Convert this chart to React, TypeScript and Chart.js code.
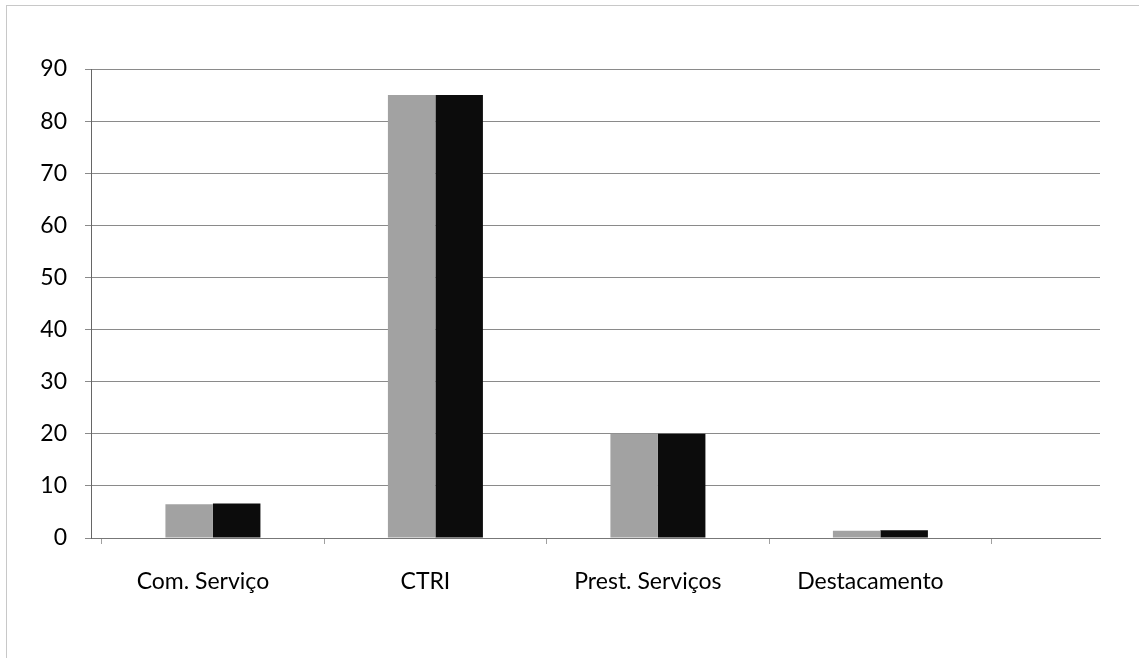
import React, { useEffect, useRef } from "react";
import { Chart, registerables } from "chart.js";

Chart.register(...registerables);

const categories = ["Com. Serviço", "CTRI", "Prest. Serviços", "Destacamento"];
const seriesA = [6.5, 85, 20, 1.4];
const seriesB = [6.6, 85, 20, 1.5];
const yTicks = { min: 0, max: 90, step: 10 };

export default function App() {
  const ref = useRef<HTMLCanvasElement | null>(null);

  useEffect(() => {
    if (!ref.current) return;
    const font = { family: "Lato, 'Open Sans', sans-serif", size: 23, weight: "normal" as const };
    const chart = new Chart(ref.current, {
      type: "bar",
      data: {
        labels: categories,
        datasets: [
          {
            label: "A",
            data: seriesA,
            backgroundColor: "#a2a2a2",
            borderWidth: 0,
            barPercentage: 1,
            categoryPercentage: 0.427,
          },
          {
            label: "B",
            data: seriesB,
            backgroundColor: "#0c0c0c",
            borderWidth: 0,
            barPercentage: 1,
            categoryPercentage: 0.427,
          },
        ],
      },
      options: {
        animation: false,
        responsive: false,
        maintainAspectRatio: false,
        layout: { padding: { top: 69, right: 39, left: 0, bottom: 0 } },
        plugins: {
          legend: { display: false },
          tooltip: { enabled: false },
          title: { display: false },
        },
        scales: {
          x: {
            offset: true,
            afterBuildTicks: (scale: any) => {
              scale._startValue = -0.548;
              scale._valueRange = 4.535;
            },
            afterFit: (scale: any) => {
              scale.height = 120;
            },
            grid: {
              offset: true,
              drawOnChartArea: false,
              drawTicks: true,
              tickLength: 6,
              color: "#a0a0a0",
            },
            border: { display: true, color: "#777", width: 1 },
            ticks: {
              color: "#000",
              font,
              padding: 24,
              labelOffset: -10,
              maxRotation: 0,
              autoSkip: false,
            },
          },
          y: {
            min: yTicks.min,
            max: yTicks.max,
            afterFit: (scale: any) => {
              scale.width = 91;
            },
            grid: {
              color: "#8a8a8a",
              lineWidth: 1,
              drawTicks: true,
              tickLength: 6,
            },
            border: { display: true, color: "#666", width: 1 },
            ticks: {
              stepSize: yTicks.step,
              color: "#000",
              font,
              padding: 18,
            },
          },
        },
      },
    });
    return () => chart.destroy();
  }, []);

  return (
    <div
      style={{
        position: "fixed",
        left: 0,
        top: 0,
        width: 1139,
        height: 658,
        background: "#fff",
      }}
    >
      <div
        style={{
          position: "absolute",
          left: 6,
          top: 5,
          width: 1133,
          height: 653,
          borderLeft: "1px solid #c8c8c8",
          borderTop: "1px solid #c8c8c8",
        }}
      />
      <canvas
        ref={ref}
        width={1139}
        height={658}
        style={{ position: "absolute", left: 0, top: 0, width: 1139, height: 658 }}
      />
    </div>
  );
}
